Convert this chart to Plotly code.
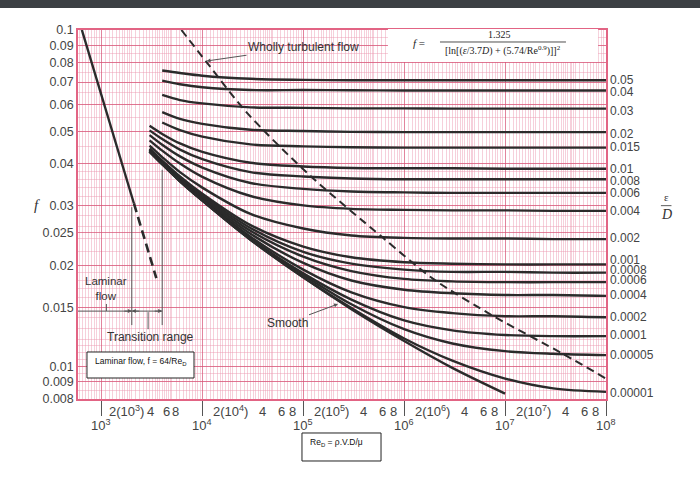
import math
import plotly.graph_objects as go

# ---------------- data ----------------
RE = [3e3, 4e3, 6e3, 1e4, 3e4, 1e5, 3e5, 1e6, 3e6, 1e7, 3e7, 1e8]

EPS_LABELS = ["0.05", "0.04", "0.03", "0.02", "0.015", "0.01", "0.008", "0.006", "0.004",
              "0.002", "0.001", "0.0008", "0.0006", "0.0004", "0.0002", "0.0001",
              "0.00005", "0.00001"]
# f-level at which each eps/D label is printed on the right
EPS_LABEL_F = [0.0710, 0.0654, 0.0575, 0.0490, 0.0449, 0.0386, 0.0356, 0.0327, 0.0290,
               0.0241, 0.0207, 0.0193, 0.0181, 0.0163, 0.0140, 0.0124, 0.0108, 0.00833]

F_0_05 = [None, 0.0758, 0.0745, 0.0731, 0.0716, 0.0711, 0.0709, 0.0709, 0.0709, 0.0709, 0.0709, 0.0709]
F_0_04 = [None, 0.0707, 0.0690, 0.0676, 0.0663, 0.0663, 0.0662, 0.0661, 0.0661, 0.0661, 0.0661, 0.0661]
F_0_03 = [None, 0.0641, 0.0619, 0.0605, 0.0589, 0.0587, 0.0585, 0.0585, 0.0584, 0.0584, 0.0584, 0.0584]
F_0_02 = [None, 0.0570, 0.0544, 0.0526, 0.0505, 0.0501, 0.0498, 0.0497, 0.0497, 0.0497, 0.0497, 0.0497]
F_0_015 = [None, 0.0531, 0.0504, 0.0482, 0.0457, 0.0451, 0.0448, 0.0447, 0.0447, 0.0447, 0.0447, 0.0447]
F_0_01 = [0.0519, 0.0491, 0.0460, 0.0434, 0.0403, 0.0393, 0.0389, 0.0388, 0.0388, 0.0387, 0.0387, 0.0387]
F_0_008 = [0.0503, 0.0474, 0.0441, 0.0413, 0.0378, 0.0367, 0.0362, 0.0360, 0.0360, 0.0360, 0.0360, 0.0360]
F_0_006 = [0.0487, 0.0456, 0.0421, 0.0390, 0.0351, 0.0337, 0.0331, 0.0329, 0.0328, 0.0328, 0.0328, 0.0328]
F_0_004 = [0.0470, 0.0438, 0.0401, 0.0366, 0.0321, 0.0301, 0.0294, 0.0292, 0.0291, 0.0291, 0.0290, 0.0290]
F_0_002 = [0.0453, 0.0419, 0.0378, 0.0340, 0.0284, 0.0257, 0.0245, 0.0241, 0.0240, 0.0240, 0.0239, 0.0239]
F_0_001 = [0.0444, 0.0409, 0.0367, 0.0326, 0.0263, 0.0227, 0.0211, 0.0204, 0.0202, 0.0201, 0.0201, 0.0201]
F_0_0008 = [0.0442, 0.0407, 0.0365, 0.0323, 0.0258, 0.0219, 0.0202, 0.0194, 0.0191, 0.0191, 0.0190, 0.0190]
F_0_0006 = [0.0440, 0.0405, 0.0362, 0.0320, 0.0253, 0.0212, 0.0192, 0.0182, 0.0179, 0.0178, 0.0178, 0.0178]
F_0_0004 = [0.0439, 0.0403, 0.0360, 0.0317, 0.0248, 0.0203, 0.0180, 0.0169, 0.0165, 0.0163, 0.0163, 0.0162]
F_0_0002 = [0.0437, 0.0401, 0.0358, 0.0314, 0.0243, 0.0194, 0.0166, 0.0150, 0.0144, 0.0141, 0.0141, 0.0140]
F_0_0001 = [0.0436, 0.0400, 0.0356, 0.0312, 0.0240, 0.0189, 0.0158, 0.0137, 0.0128, 0.0124, 0.0123, 0.0123]
F_0_00005 = [0.0436, 0.0400, 0.0356, 0.0312, 0.0239, 0.0187, 0.0153, 0.0129, 0.0117, 0.0111, 0.0109, 0.0108]
F_0_00001 = [0.0435, 0.0399, 0.0355, 0.0311, 0.0238, 0.0184, 0.0149, 0.0121, 0.0104, 0.0092, 0.0086, 0.0084]
F_SMOOTH = [0.0435, 0.0399, 0.0355, 0.0311, 0.0238, 0.0184, 0.0148, 0.0119, 0.0099, 0.0083, None, None]

F_CURVES = [F_0_05, F_0_04, F_0_03, F_0_02, F_0_015, F_0_01, F_0_008, F_0_006, F_0_004,
            F_0_002, F_0_001, F_0_0008, F_0_0006, F_0_0004, F_0_0002, F_0_0001,
            F_0_00005, F_0_00001]

# laminar line (solid) and its extension (dashed)
RE_LAM = [640, 2100]
F_LAM = [0.1000, 0.0305]
RE_LAM_EXT = [2100, 3500]
F_LAM_EXT = [0.0305, 0.0183]

# wholly turbulent boundary (dashed)
RE_WT = [6200, 11000, 27450, 115800, 613500, 1.92e6, 7.57e6, 3.745e7, 1e8]
F_WT = [0.1000, 0.0803, 0.0569, 0.0370, 0.02415, 0.01823, 0.01414, 0.0109, 0.0092]

# transition-range markers
RE_LAM_END = 2000
RE_TURB_START = 4000
RE_TRANS_MID = 2900
RE_LAM_MARK = 1120
RE_AXIS_MIN = 586
F_TRANS_LINE = 0.0146

Y_TICKS = [0.1, 0.09, 0.08, 0.07, 0.06, 0.05, 0.04, 0.03, 0.025, 0.02, 0.015, 0.01, 0.009, 0.008]
Y_TICKTEXT = ["0.1", "0.09", "0.08", "0.07", "0.06", "0.05", "0.04", "0.03", "0.025", "0.02",
              "0.015", "0.01", "0.009", "0.008"]
DECADES = [3, 4, 5, 6, 7, 8]

# ---------------- styling ----------------
SANS = "Liberation Sans, Arial, sans-serif"
SERIF = "Liberation Serif, Times New Roman, serif"
INK = "#2b2b2b"
TXT = "#444444"
GRID_MAJOR = "rgba(214, 80, 115, 0.70)"
GRID_MINOR = "rgba(234, 150, 175, 0.45)"
FRAME = "rgb(226, 100, 132)"

fig = go.Figure()

# roughness curves
for lab, f in zip(EPS_LABELS, F_CURVES):
    fig.add_trace(go.Scatter(x=RE, y=f, mode="lines", name=lab, connectgaps=False,
                             line=dict(color=INK, width=2.4, shape="spline", smoothing=0.9),
                             hoverinfo="skip", showlegend=False))
fig.add_trace(go.Scatter(x=RE, y=F_SMOOTH, mode="lines", name="Smooth", connectgaps=False,
                         line=dict(color=INK, width=2.4, shape="spline", smoothing=0.9),
                         hoverinfo="skip", showlegend=False))

# laminar
fig.add_trace(go.Scatter(x=RE_LAM, y=F_LAM, mode="lines", line=dict(color=INK, width=2.4),
                         hoverinfo="skip", showlegend=False))
fig.add_trace(go.Scatter(x=RE_LAM_EXT, y=F_LAM_EXT, mode="lines",
                         line=dict(color=INK, width=2.6, dash="9px,5px"),
                         hoverinfo="skip", showlegend=False))
# wholly turbulent
fig.add_trace(go.Scatter(x=RE_WT, y=F_WT, mode="lines",
                         line=dict(color=INK, width=2.0, dash="8px,5px", shape="spline", smoothing=0.8),
                         hoverinfo="skip", showlegend=False))

# transition range marker lines
thin = dict(color="#555555", width=1)
F_TOP_LAM = F_LAM[1] * 0.975
for xs, ys in [([RE_LAM_END, RE_LAM_END], [F_TOP_LAM, 0.01327]),
               ([RE_TURB_START, RE_TURB_START], [0.0384, 0.01327]),
               ([RE_TRANS_MID, RE_TRANS_MID], [0.0145, 0.0129]),
               ([RE_LAM_MARK, RE_LAM_MARK], [0.01533, 0.01461]),
               ([RE_AXIS_MIN, RE_TURB_START], [F_TRANS_LINE, F_TRANS_LINE])]:
    fig.add_trace(go.Scatter(x=xs, y=ys, mode="lines", line=thin, hoverinfo="skip", showlegend=False))

L = math.log10
ann = []
# arrows on the transition line
for head, dx in [(RE_LAM_END, -9), (RE_LAM_END, 9), (RE_TURB_START, -9)]:
    ann.append(dict(x=L(head), y=L(F_TRANS_LINE), xref="x", yref="y", text="", showarrow=True,
                    ax=dx, ay=0, arrowhead=2, arrowsize=0.8, arrowwidth=1, arrowcolor="#555"))

# right-hand eps/D labels
for lab, fl in zip(EPS_LABELS, EPS_LABEL_F):
    ann.append(dict(x=1, y=L(fl), xref="paper", yref="y", text=lab, showarrow=False,
                    xanchor="left", yanchor="middle", xshift=2,
                    font=dict(family=SANS, size=12, color=TXT)))

# x labels: "2(10^n) 4 6 8" rows and decade labels
XLAB_ROW_Y = -0.033
DEC_ROW_Y = -0.071
dec3_pos = [(3.252, "2(10<sup>3</sup>)"), (3.489, "4"), (3.648, "6"), (3.737, "8")]
for xv, t in dec3_pos:
    ann.append(dict(x=xv, y=XLAB_ROW_Y, xref="x", yref="paper", text=t, showarrow=False,
                    xanchor="center", yanchor="middle", font=dict(family=SANS, size=13, color=TXT)))
for d in [4, 5, 6, 7]:
    for off, t in [(0.278, "2(10<sup>%d</sup>)" % d), (0.595, "4"), (0.783, "6"), (0.897, "8")]:
        ann.append(dict(x=d + off, y=XLAB_ROW_Y, xref="x", yref="paper", text=t, showarrow=False,
                        xanchor="center", yanchor="middle", font=dict(family=SANS, size=13, color=TXT)))
for d in DECADES:
    ann.append(dict(x=d, y=DEC_ROW_Y, xref="x", yref="paper", text="10<sup>%d</sup>" % d,
                    showarrow=False, xanchor="center", yanchor="middle",
                    font=dict(family=SANS, size=13, color=TXT)))

C = dict(xanchor="center", yanchor="middle")
ann += [
    dict(x=L(11000), y=-1.0922, xref="x", yref="y", text="Wholly turbulent flow", showarrow=True,
         ax=97, ay=-14, arrowhead=2, arrowsize=0.8, arrowwidth=1, arrowcolor="#555",
         font=dict(family=SANS, size=12, color="#333"), **C),
    dict(x=L(2.21e5), y=-1.8145, xref="x", yref="y", text="Smooth", showarrow=True,
         ax=-51, ay=19, arrowhead=2, arrowsize=0.8, arrowwidth=1, arrowcolor="#555",
         font=dict(family=SANS, size=12, color="#333"), **C),
    dict(x=L(1110), y=L(0.0170), xref="x", yref="y", text="Laminar<br>flow", showarrow=False,
         font=dict(family=SANS, size=11.5, color="#333"), **C),
    dict(x=L(3030), y=L(0.01222), xref="x", yref="y", text="Transition range", showarrow=False,
         font=dict(family=SANS, size=12, color="#333"), **C),
    dict(x=-0.078, y=0.526, xref="paper", yref="paper", text="<i>f</i>", showarrow=False,
         font=dict(family=SERIF, size=15, color="#333"), **C),
    dict(x=1.114, y=0.547, xref="paper", yref="paper", text="ε", showarrow=False,
         font=dict(family=SERIF, size=11, color="#333"), **C),
    dict(x=1.114, y=0.500, xref="paper", yref="paper", text="<i>D</i>", showarrow=False,
         font=dict(family=SERIF, size=14, color="#333"), **C),
    # formula
    dict(x=0.646, y=0.966, xref="paper", yref="paper", text="<i>f</i> =", showarrow=False,
         font=dict(family=SERIF, size=11, color="#222"), **C),
    dict(x=0.799, y=0.987, xref="paper", yref="paper", text="1.325", showarrow=False,
         font=dict(family=SERIF, size=10, color="#222"), **C),
    dict(x=0.805, y=0.945, xref="paper", yref="paper",
         text="[ln[(<i>ε</i>/3.7<i>D</i>) + (5.74/Re<sup>0.9</sup>)]]<sup>2</sup>", showarrow=False,
         font=dict(family=SERIF, size=10, color="#222"), **C),
    # boxes text
    dict(x=0.029, y=0.101, xref="paper", yref="paper", text="Laminar flow, f = 64/Re<sub>D</sub>",
         showarrow=False, xanchor="left", yanchor="middle",
         font=dict(family=SANS, size=8.5, color="#111")),
    dict(x=0.436, y=-0.117, xref="paper", yref="paper", text="Re<sub>D</sub> = ρ.V.D/μ",
         showarrow=False, xanchor="left", yanchor="middle",
         font=dict(family=SANS, size=8.5, color="#111")),
]

shapes = [
    # top dark bar
    dict(type="rect", xref="paper", yref="paper", x0=-0.16, x1=1.2, y0=1.0596, y1=1.09,
         fillcolor="#3c4044", line=dict(width=0), layer="above"),
    # formula box
    dict(type="rect", xref="paper", yref="paper", x0=0.587, x1=0.985, y0=0.9133, y1=1.003,
         fillcolor="white", line=dict(width=0), layer="above"),
    dict(type="line", xref="paper", yref="paper", x0=0.6856, x1=0.9242, y0=0.9675, y1=0.9675,
         line=dict(color="#222", width=0.8), layer="above"),
    # laminar formula box
    dict(type="rect", xref="paper", yref="paper", x0=0.017, x1=0.2197, y0=0.0569, y1=0.1274,
         fillcolor="white", line=dict(color="#222", width=1), layer="above"),
    # Re box
    dict(type="rect", xref="paper", yref="paper", x0=0.4242, x1=0.5739, y0=-0.168, y1=-0.0921,
         fillcolor="white", line=dict(color="#222", width=1), layer="above"),
    # eps/D fraction bar
    dict(type="line", xref="paper", yref="paper", x0=1.104, x1=1.124, y0=0.524, y1=0.524,
         line=dict(color="#333", width=0.8)),
]

# grid values (log paper)
x_minor = []
for d in range(2, 8):
    mults = [1.1 + 0.1 * i for i in range(9)] + [2 + 0.2 * i for i in range(15)] + \
            [5 + 0.5 * i for i in range(10)]
    for m in mults:
        v = m * 10 ** d
        if 586 < v < 1e8:
            x_minor.append(v)
y_minor = []
v = 0.008
while v < 0.1:
    if v < 0.012:
        step = 0.0005
    elif v < 0.02:
        step = 0.001
    elif v < 0.04:
        step = 0.002
    else:
        step = 0.005
    y_minor.append(round(v, 5))
    v += step

fig.update_layout(
    width=700, height=477,
    margin=dict(l=78, r=94, t=30, b=78),
    paper_bgcolor="white", plot_bgcolor="white",
    showlegend=False,
    annotations=ann, shapes=shapes,
    xaxis=dict(type="log", range=[L(RE_AXIS_MIN), 8.0],
               tickvals=[10 ** d for d in DECADES], showticklabels=False,
               ticks="outside", ticklen=15, tickwidth=1.3, tickcolor="#555",
               showgrid=True, gridcolor=GRID_MAJOR, gridwidth=1,
               minor=dict(tickvals=x_minor, showgrid=True, gridcolor=GRID_MINOR, gridwidth=1, ticks=""),
               showline=True, mirror=True, linecolor=FRAME, linewidth=1.5, zeroline=False),
    yaxis=dict(type="log", range=[L(0.008), -1.0],
               tickvals=Y_TICKS, ticktext=Y_TICKTEXT, ticks="",
               tickfont=dict(family=SANS, size=12.5, color=TXT),
               showgrid=True, gridcolor=GRID_MAJOR, gridwidth=1,
               minor=dict(tickvals=y_minor, showgrid=True, gridcolor=GRID_MINOR, gridwidth=1, ticks=""),
               showline=True, mirror=True, linecolor=FRAME, linewidth=1.5, zeroline=False),
)

fig.write_html("out.html")
